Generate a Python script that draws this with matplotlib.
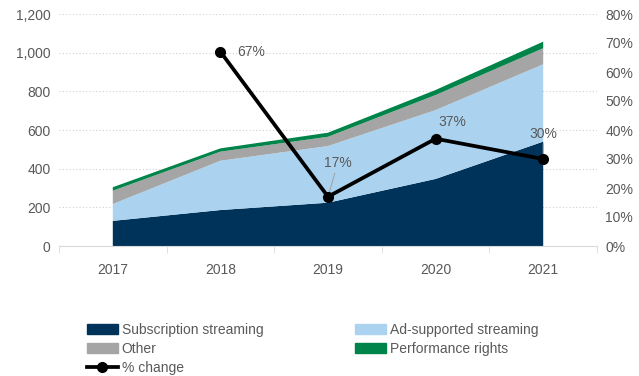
import matplotlib.pyplot as plt
from matplotlib.patches import Patch
from matplotlib.lines import Line2D
from matplotlib.ticker import FuncFormatter

plt.rcParams['font.family'] = ['Liberation Sans', 'DejaVu Sans']

years = ['2017', '2018', '2019', '2020', '2021']
subscription = [130, 186, 224, 347, 540]
ad_supported = [87, 255, 293, 356, 400]
other = [69, 47, 48, 78, 83]
performance = [18, 17, 21, 26, 34]
pct_change = [None, 67, 17, 37, 30]

colors = ['#003359', '#abd3f0', '#a5a5a5', '#00844a']
grey = '#595959'

fig = plt.figure(figsize=(6.39, 3.76), dpi=100)
ax = fig.add_axes([59/639, 1-246/376, 538/639, 232/376])
x = list(range(len(years)))
ax.stackplot(x, subscription, ad_supported, other, performance, colors=colors, zorder=2)

ax.set_xlim(-0.5, 4.5)
ax.set_ylim(0, 1200)
ax.set_yticks(range(0, 1201, 200))
ax.yaxis.set_major_formatter(FuncFormatter(lambda v, p: f'{int(v):,}'))
ax.set_xticks(x)
ax.set_xticklabels(years)
ax.set_xticks([i - 0.5 for i in range(6)], minor=True)
ax.tick_params(axis='x', which='major', length=0, pad=12, labelsize=10, colors=grey)
ax.tick_params(axis='x', which='minor', length=5, color='#d9d9d9', direction='out')
ax.tick_params(axis='y', length=0, labelsize=10, colors=grey, pad=6)
ax.grid(axis='y', linestyle=(0, (1, 2)), color='#d0d0d0', linewidth=0.8, zorder=0)
ax.set_axisbelow(True)
for s in ['left', 'right', 'top']:
    ax.spines[s].set_visible(False)
ax.spines['bottom'].set_color('#d9d9d9')

ax2 = ax.twinx()
ax2.set_ylim(0, 80)
ax2.set_yticks(range(0, 81, 10))
ax2.yaxis.set_major_formatter(FuncFormatter(lambda v, p: f'{int(v)}%'))
ax2.tick_params(axis='y', length=0, labelsize=10, colors=grey, pad=6)
for s in ['left', 'right', 'top', 'bottom']:
    ax2.spines[s].set_visible(False)

px = [i for i, v in zip(x, pct_change) if v is not None]
py = [v for v in pct_change if v is not None]
ax2.plot(px, py, color='black', linewidth=2.7, marker='o', markersize=7, zorder=5)

# data labels
offsets = {1: (12, 0, 'left', 'center', False),
           2: (7, 19, 'center', 'bottom', True),
           3: (12, 7, 'center', 'bottom', False),
           4: (0, 13, 'center', 'bottom', True)}
for i, v in zip(px, py):
    dx, dy, ha, va, leader = offsets[i]
    ax2.annotate(f'{v}%', xy=(i, v), xytext=(dx, dy), textcoords='offset points',
                 ha=ha, va=va, fontsize=10, color=grey,
                 arrowprops=dict(arrowstyle='-', color='#a0a0a0', lw=0.7,
                                 shrinkA=0, shrinkB=3) if leader else None)

handles = [Patch(color=colors[0]), Patch(color=colors[2]),
           Line2D([], [], color='black', lw=2.7, marker='o', markersize=7),
           Patch(color=colors[1]), Patch(color=colors[3])]
labels = ['Subscription streaming', 'Other', '% change',
          'Ad-supported streaming', 'Performance rights']
fig.legend(handles, labels, ncol=2, loc='upper left', bbox_to_anchor=(87/639, 1-323/376),
           frameon=False, fontsize=10, labelcolor=grey, handlelength=2.2,
           handleheight=0.7, handletextpad=0.3, columnspacing=6.6,
           labelspacing=0.35, borderpad=0, borderaxespad=0)

fig.savefig('out.png', dpi=100)
